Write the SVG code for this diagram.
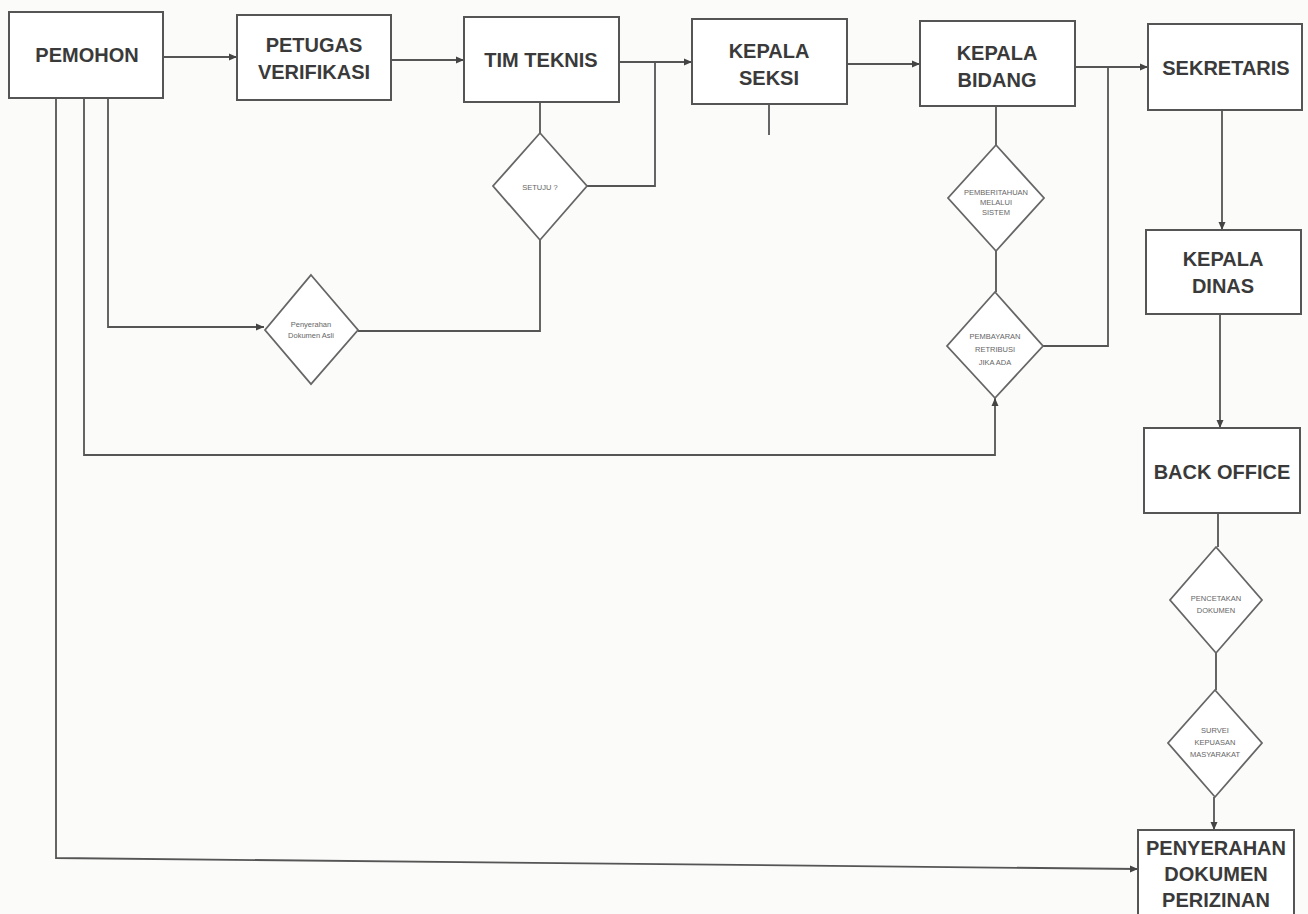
<svg xmlns="http://www.w3.org/2000/svg" width="1308" height="914" viewBox="0 0 1308 914">
<defs>
<marker id="arr" markerWidth="9" markerHeight="9" refX="8" refY="4.5" orient="auto" markerUnits="userSpaceOnUse">
<path d="M0,1 L8,4.5 L0,8 Z" fill="#444"/>
</marker>
<style>
.box{fill:#fff;stroke:#555;stroke-width:2}
.dia{fill:#fff;stroke:#666;stroke-width:1.8}
.t{font-family:"Liberation Sans",Arial,sans-serif;font-weight:bold;font-size:20px;fill:#3a3a3a;text-anchor:middle}
.s{font-family:"Liberation Sans",Arial,sans-serif;font-size:7.5px;fill:#666;text-anchor:middle}
.c{fill:none;stroke:#555;stroke-width:1.8}
</style>
</defs>
<rect width="1308" height="914" fill="#fbfbfa"/>
<g id="connectors">
<path class="c" d="M163,57 H237" marker-end="url(#arr)"/>
<path class="c" d="M391,60 H464" marker-end="url(#arr)"/>
<path class="c" d="M619,62 H692" marker-end="url(#arr)"/>
<path class="c" d="M655,62 V186 H587"/>
<path class="c" d="M540,102 V133"/>
<path class="c" d="M540,240 V331 H358"/>
<path class="c" d="M108,98 V327 H264" marker-end="url(#arr)"/>
<path class="c" d="M84,98 V455 H995 V398" marker-end="url(#arr)"/>
<path class="c" d="M56,98 V858 L1138,869" marker-end="url(#arr)"/>
<path class="c" d="M769,104 V135"/>
<path class="c" d="M847,64 H920" marker-end="url(#arr)"/>
<path class="c" d="M1075,67 H1148" marker-end="url(#arr)"/>
<path class="c" d="M1108,67 V346 H1043"/>
<path class="c" d="M996,106 V145"/>
<path class="c" d="M996,251 V292"/>
<path class="c" d="M1222,110 V230" marker-end="url(#arr)"/>
<path class="c" d="M1220,314 V428" marker-end="url(#arr)"/>
<path class="c" d="M1218,513 V547"/>
<path class="c" d="M1216,653 V690"/>
<path class="c" d="M1214,797 V830" marker-end="url(#arr)"/>
</g>
<g id="pemohon"><rect class="box" x="9" y="12" width="154" height="86"/><text class="t" x="87" y="62">PEMOHON</text></g>
<g id="petugas"><rect class="box" x="237" y="15" width="154" height="85"/><text class="t" x="314" y="52">PETUGAS</text><text class="t" x="314" y="79">VERIFIKASI</text></g>
<g id="timteknis"><rect class="box" x="464" y="17" width="155" height="85"/><text class="t" x="541" y="67">TIM TEKNIS</text></g>
<g id="kepalaseksi"><rect class="box" x="692" y="19" width="155" height="85"/><text class="t" x="769" y="58">KEPALA</text><text class="t" x="769" y="85">SEKSI</text></g>
<g id="kepalabidang"><rect class="box" x="920" y="21" width="155" height="85"/><text class="t" x="997" y="60">KEPALA</text><text class="t" x="997" y="87">BIDANG</text></g>
<g id="sekretaris"><rect class="box" x="1148" y="24" width="154" height="86"/><text class="t" x="1226" y="75">SEKRETARIS</text></g>
<g id="kepaladinas"><rect class="box" x="1146" y="230" width="155" height="84"/><text class="t" x="1223" y="266">KEPALA</text><text class="t" x="1223" y="293">DINAS</text></g>
<g id="backoffice"><rect class="box" x="1144" y="428" width="156" height="85"/><text class="t" x="1222" y="479">BACK OFFICE</text></g>
<g id="penyerahandok"><rect class="box" x="1138" y="830" width="156" height="90"/><text class="t" x="1216" y="855">PENYERAHAN</text><text class="t" x="1216" y="881">DOKUMEN</text><text class="t" x="1216" y="907">PERIZINAN</text></g>
<g id="setuju"><polygon class="dia" points="540,133 587,186 540,240 493,186"/><text class="s" x="540" y="190">SETUJU ?</text></g>
<g id="penyerahanasli"><polygon class="dia" points="311,275 358,330 311,384 265,330"/><text class="s" x="311" y="327">Penyerahan</text><text class="s" x="311" y="338">Dokumen Asli</text></g>
<g id="pemberitahuan"><polygon class="dia" points="996,145 1044,198 996,251 948,198"/><text class="s" x="996" y="195">PEMBERITAHUAN</text><text class="s" x="996" y="205">MELALUI</text><text class="s" x="996" y="215">SISTEM</text></g>
<g id="pembayaran"><polygon class="dia" points="995,292 1043,346 995,398 947,346"/><text class="s" x="995" y="339">PEMBAYARAN</text><text class="s" x="995" y="352">RETRIBUSI</text><text class="s" x="995" y="365">JIKA ADA</text></g>
<g id="pencetakan"><polygon class="dia" points="1216,547 1262,600 1216,653 1170,600"/><text class="s" x="1216" y="601">PENCETAKAN</text><text class="s" x="1216" y="613">DOKUMEN</text></g>
<g id="survei"><polygon class="dia" points="1215,690 1262,743 1215,797 1168,743"/><text class="s" x="1215" y="733">SURVEI</text><text class="s" x="1215" y="745">KEPUASAN</text><text class="s" x="1215" y="757">MASYARAKAT</text></g>
</svg>
